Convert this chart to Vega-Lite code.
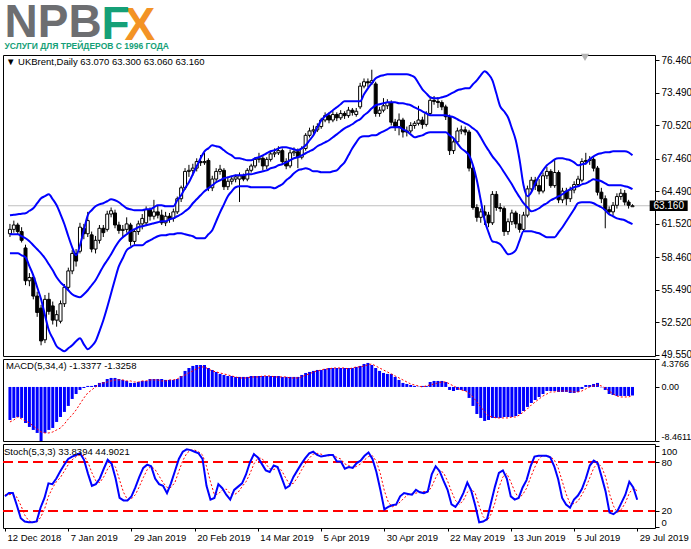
{
  "$schema": "https://vega.github.io/schema/vega-lite/v6.json",
  "background": "white",
  "padding": {"left": 0, "top": 0, "right": 0, "bottom": 0},
  "title": {
    "text": "NPB",
    "subtitle": "УСЛУГИ ДЛЯ ТРЕЙДЕРОВ С 1996 ГОДА",
    "anchor": "start",
    "dx": 4,
    "offset": -49,
    "font": "Liberation Sans",
    "fontSize": 46,
    "fontWeight": "bold",
    "color": "#6d6e71",
    "subtitleFont": "'Liberation Sans Narrow', 'Liberation Sans'",
    "subtitleFontSize": 8.5,
    "subtitleFontWeight": "bold",
    "subtitleColor": "#15a077",
    "subtitlePadding": -5.5
  },
  "datasets": {
    "bars": [
      {"i":0,"o":60.6,"h":61.5,"l":60.3,"c":61.0,"u":62.29,"m":60.55,"b":58.81,"md":-5.17,"sg":-5.48,"k":38,"d":40},
      {"i":1,"o":61.0,"h":61.8,"l":60.7,"c":61.4,"u":62.33,"m":60.55,"b":58.81,"md":-4.85,"sg":-5.17,"k":42,"d":40},
      {"i":2,"o":61.4,"h":61.6,"l":60.5,"c":60.8,"u":62.38,"m":60.55,"b":58.81,"md":-4.70,"sg":-4.70,"k":42,"d":41},
      {"i":3,"o":60.8,"h":61.2,"l":59.8,"c":60.0,"u":62.43,"m":60.37,"b":58.63,"md":-4.85,"sg":-5.01,"k":27,"d":37},
      {"i":4,"o":59.3,"h":59.6,"l":55.9,"c":56.3,"u":62.47,"m":60.19,"b":58.45,"md":-5.64,"sg":-5.32,"k":11,"d":27},
      {"i":5,"o":56.3,"h":57.0,"l":55.8,"c":56.6,"u":62.70,"m":59.91,"b":57.63,"md":-6.26,"sg":-5.64,"k":7,"d":15},
      {"i":6,"o":56.6,"h":56.9,"l":54.6,"c":54.9,"u":62.93,"m":59.55,"b":56.80,"md":-6.73,"sg":-6.11,"k":6,"d":8},
      {"i":7,"o":54.9,"h":55.3,"l":53.0,"c":53.4,"u":63.39,"m":59.18,"b":55.71,"md":-7.20,"sg":-6.57,"k":6,"d":6},
      {"i":8,"o":53.8,"h":54.1,"l":50.4,"c":50.8,"u":63.84,"m":58.81,"b":54.61,"md":-8.46,"sg":-7.05,"k":7,"d":6},
      {"i":9,"o":50.9,"h":55.0,"l":50.6,"c":54.6,"u":64.03,"m":58.36,"b":53.15,"md":-7.20,"sg":-7.20,"k":24,"d":12},
      {"i":10,"o":54.6,"h":55.2,"l":53.2,"c":53.5,"u":64.21,"m":57.81,"b":51.77,"md":-6.73,"sg":-7.20,"k":36,"d":22},
      {"i":11,"o":54.0,"h":54.4,"l":52.3,"c":52.7,"u":63.75,"m":57.26,"b":51.04,"md":-6.42,"sg":-7.05,"k":54,"d":38},
      {"i":12,"o":52.7,"h":53.6,"l":52.1,"c":53.2,"u":63.20,"m":56.62,"b":50.31,"md":-5.48,"sg":-6.73,"k":53,"d":48},
      {"i":13,"o":52.6,"h":54.5,"l":52.4,"c":54.2,"u":62.38,"m":56.16,"b":50.04,"md":-4.70,"sg":-6.42,"k":60,"d":56},
      {"i":14,"o":54.2,"h":56.0,"l":53.9,"c":55.7,"u":61.47,"m":55.80,"b":49.85,"md":-3.91,"sg":-5.79,"k":69,"d":61},
      {"i":15,"o":55.7,"h":57.5,"l":55.4,"c":57.2,"u":60.37,"m":55.43,"b":50.13,"md":-2.97,"sg":-5.01,"k":77,"d":69},
      {"i":16,"o":57.2,"h":59.1,"l":56.9,"c":58.8,"u":59.36,"m":55.07,"b":50.40,"md":-1.88,"sg":-4.38,"k":84,"d":77},
      {"i":17,"o":58.8,"h":59.2,"l":57.6,"c":58.1,"u":58.63,"m":54.88,"b":50.77,"md":-1.10,"sg":-3.60,"k":87,"d":83},
      {"i":18,"o":59.0,"h":61.6,"l":58.8,"c":61.2,"u":59.55,"m":54.79,"b":51.04,"md":-0.47,"sg":-2.66,"k":89,"d":87},
      {"i":19,"o":61.1,"h":61.5,"l":60.1,"c":60.6,"u":60.92,"m":55.07,"b":50.49,"md":-0.16,"sg":-1.72,"k":91,"d":89},
      {"i":20,"o":60.6,"h":62.6,"l":60.3,"c":61.8,"u":62.29,"m":55.43,"b":50.04,"md":0.16,"sg":-0.94,"k":83,"d":88},
      {"i":21,"o":60.5,"h":60.8,"l":58.9,"c":59.2,"u":62.75,"m":55.89,"b":50.31,"md":0.16,"sg":-0.47,"k":66,"d":80},
      {"i":22,"o":59.2,"h":60.4,"l":58.8,"c":60.0,"u":63.11,"m":56.35,"b":50.77,"md":0.31,"sg":0.00,"k":51,"d":67},
      {"i":23,"o":60.0,"h":61.4,"l":59.7,"c":61.1,"u":63.29,"m":56.99,"b":51.68,"md":0.63,"sg":0.47,"k":53,"d":57},
      {"i":24,"o":61.1,"h":61.4,"l":60.3,"c":60.7,"u":63.39,"m":57.63,"b":52.69,"md":0.78,"sg":0.63,"k":60,"d":55},
      {"i":25,"o":61.0,"h":62.7,"l":60.8,"c":62.4,"u":63.57,"m":58.17,"b":53.88,"md":1.25,"sg":0.78,"k":72,"d":62},
      {"i":26,"o":62.4,"h":63.0,"l":62.1,"c":62.7,"u":63.75,"m":58.72,"b":55.16,"md":1.41,"sg":0.94,"k":83,"d":72},
      {"i":27,"o":62.5,"h":62.8,"l":61.1,"c":61.4,"u":63.66,"m":59.36,"b":56.44,"md":1.41,"sg":1.10,"k":78,"d":78},
      {"i":28,"o":61.4,"h":61.7,"l":60.6,"c":60.9,"u":63.48,"m":59.91,"b":57.63,"md":1.25,"sg":1.10,"k":60,"d":74},
      {"i":29,"o":60.9,"h":61.4,"l":60.2,"c":61.0,"u":63.20,"m":60.28,"b":58.36,"md":1.10,"sg":1.10,"k":36,"d":58},
      {"i":30,"o":61.0,"h":62.1,"l":60.7,"c":61.5,"u":62.93,"m":60.55,"b":59.09,"md":0.94,"sg":0.94,"k":33,"d":43},
      {"i":31,"o":61.4,"h":61.6,"l":59.5,"c":59.9,"u":62.84,"m":60.83,"b":59.36,"md":0.63,"sg":0.94,"k":33,"d":34},
      {"i":32,"o":59.9,"h":61.0,"l":59.6,"c":60.8,"u":62.75,"m":61.01,"b":59.55,"md":0.63,"sg":0.78,"k":38,"d":35},
      {"i":33,"o":60.8,"h":61.8,"l":60.5,"c":61.5,"u":62.75,"m":61.19,"b":59.55,"md":0.78,"sg":0.78,"k":49,"d":40},
      {"i":34,"o":61.5,"h":62.4,"l":61.0,"c":62.0,"u":62.75,"m":61.28,"b":59.55,"md":0.94,"sg":0.94,"k":62,"d":50},
      {"i":35,"o":61.6,"h":63.1,"l":61.3,"c":62.8,"u":62.84,"m":61.37,"b":59.82,"md":0.94,"sg":0.94,"k":73,"d":61},
      {"i":36,"o":62.8,"h":63.0,"l":61.8,"c":62.2,"u":62.84,"m":61.47,"b":60.00,"md":1.25,"sg":1.10,"k":77,"d":71},
      {"i":37,"o":62.2,"h":63.7,"l":61.9,"c":62.6,"u":63.02,"m":61.56,"b":60.19,"md":1.25,"sg":1.10,"k":75,"d":75},
      {"i":38,"o":62.6,"h":63.2,"l":62.0,"c":62.3,"u":63.20,"m":61.65,"b":60.37,"md":1.25,"sg":1.10,"k":60,"d":71},
      {"i":39,"o":62.3,"h":62.8,"l":61.4,"c":61.6,"u":63.20,"m":61.74,"b":60.46,"md":1.25,"sg":0.94,"k":53,"d":63},
      {"i":40,"o":61.6,"h":62.6,"l":61.3,"c":62.2,"u":63.11,"m":61.74,"b":60.46,"md":1.10,"sg":0.94,"k":51,"d":55},
      {"i":41,"o":62.2,"h":62.5,"l":61.6,"c":62.0,"u":63.11,"m":61.92,"b":60.55,"md":1.10,"sg":1.10,"k":42,"d":49},
      {"i":42,"o":62.0,"h":62.9,"l":61.7,"c":62.6,"u":63.11,"m":62.01,"b":60.55,"md":1.10,"sg":1.10,"k":54,"d":49},
      {"i":43,"o":62.6,"h":64.0,"l":62.4,"c":63.8,"u":63.66,"m":62.20,"b":60.64,"md":1.25,"sg":1.25,"k":69,"d":55},
      {"i":44,"o":63.8,"h":65.0,"l":63.5,"c":64.8,"u":64.12,"m":62.38,"b":60.64,"md":1.72,"sg":1.57,"k":84,"d":69},
      {"i":45,"o":64.8,"h":66.6,"l":64.6,"c":66.3,"u":64.76,"m":62.65,"b":60.55,"md":2.51,"sg":1.88,"k":93,"d":82},
      {"i":46,"o":66.3,"h":66.9,"l":65.8,"c":66.4,"u":65.31,"m":62.93,"b":60.46,"md":2.97,"sg":2.19,"k":96,"d":91},
      {"i":47,"o":66.4,"h":67.0,"l":65.9,"c":66.6,"u":66.04,"m":63.39,"b":60.37,"md":3.29,"sg":2.51,"k":95,"d":95},
      {"i":48,"o":66.6,"h":67.5,"l":66.3,"c":67.2,"u":66.77,"m":63.75,"b":60.19,"md":3.44,"sg":2.82,"k":93,"d":95},
      {"i":49,"o":67.2,"h":67.8,"l":66.8,"c":67.1,"u":67.50,"m":64.12,"b":60.19,"md":3.44,"sg":3.13,"k":91,"d":93},
      {"i":50,"o":67.1,"h":68.0,"l":66.9,"c":67.2,"u":68.14,"m":64.48,"b":60.19,"md":3.44,"sg":3.13,"k":84,"d":89},
      {"i":51,"o":67.3,"h":67.5,"l":64.5,"c":64.8,"u":68.41,"m":64.76,"b":60.55,"md":2.97,"sg":2.82,"k":51,"d":75},
      {"i":52,"o":64.8,"h":65.9,"l":64.5,"c":65.6,"u":68.69,"m":65.03,"b":60.92,"md":2.66,"sg":2.51,"k":34,"d":56},
      {"i":53,"o":65.6,"h":66.6,"l":65.3,"c":66.3,"u":68.60,"m":65.31,"b":61.74,"md":2.35,"sg":2.35,"k":36,"d":40},
      {"i":54,"o":66.3,"h":66.9,"l":66.0,"c":66.5,"u":68.51,"m":65.49,"b":62.56,"md":2.04,"sg":2.19,"k":53,"d":41},
      {"i":55,"o":66.4,"h":66.6,"l":64.6,"c":64.9,"u":68.23,"m":65.67,"b":63.29,"md":1.88,"sg":2.04,"k":48,"d":46},
      {"i":56,"o":64.9,"h":65.7,"l":64.6,"c":65.4,"u":67.96,"m":65.76,"b":64.03,"md":1.72,"sg":1.88,"k":40,"d":47},
      {"i":57,"o":65.4,"h":65.9,"l":65.1,"c":65.6,"u":67.77,"m":65.85,"b":64.48,"md":1.72,"sg":1.72,"k":34,"d":41},
      {"i":58,"o":65.6,"h":66.0,"l":65.3,"c":65.8,"u":67.50,"m":65.95,"b":64.85,"md":1.57,"sg":1.57,"k":46,"d":40},
      {"i":59,"o":65.6,"h":66.2,"l":63.5,"c":65.9,"u":67.50,"m":65.95,"b":64.94,"md":1.57,"sg":1.41,"k":50,"d":43},
      {"i":60,"o":65.9,"h":66.1,"l":65.4,"c":65.6,"u":67.41,"m":65.95,"b":64.94,"md":1.57,"sg":1.41,"k":54,"d":50},
      {"i":61,"o":65.6,"h":66.6,"l":65.4,"c":66.4,"u":67.32,"m":66.04,"b":64.94,"md":1.57,"sg":1.41,"k":65,"d":56},
      {"i":62,"o":66.4,"h":67.0,"l":66.2,"c":66.8,"u":67.32,"m":66.04,"b":64.85,"md":1.72,"sg":1.57,"k":80,"d":66},
      {"i":63,"o":66.8,"h":67.6,"l":66.6,"c":67.4,"u":67.50,"m":66.13,"b":64.85,"md":1.72,"sg":1.57,"k":90,"d":78},
      {"i":64,"o":67.4,"h":68.0,"l":67.1,"c":67.5,"u":67.59,"m":66.22,"b":64.85,"md":1.72,"sg":1.57,"k":86,"d":85},
      {"i":65,"o":67.5,"h":67.7,"l":66.4,"c":66.8,"u":67.77,"m":66.31,"b":64.85,"md":1.72,"sg":1.72,"k":78,"d":85},
      {"i":66,"o":66.8,"h":67.6,"l":66.5,"c":67.4,"u":67.96,"m":66.40,"b":64.85,"md":1.72,"sg":1.72,"k":70,"d":78},
      {"i":67,"o":67.4,"h":68.2,"l":67.2,"c":67.9,"u":68.14,"m":66.59,"b":64.85,"md":1.72,"sg":1.72,"k":68,"d":72},
      {"i":68,"o":67.9,"h":68.4,"l":67.6,"c":68.0,"u":68.23,"m":66.68,"b":64.76,"md":1.72,"sg":1.57,"k":76,"d":71},
      {"i":69,"o":68.0,"h":68.6,"l":67.8,"c":68.2,"u":68.41,"m":66.86,"b":64.94,"md":1.72,"sg":1.57,"k":74,"d":73},
      {"i":70,"o":68.2,"h":68.4,"l":66.9,"c":67.2,"u":68.51,"m":66.95,"b":65.12,"md":1.57,"sg":1.57,"k":61,"d":70},
      {"i":71,"o":67.2,"h":67.5,"l":66.5,"c":66.8,"u":68.51,"m":67.13,"b":65.49,"md":1.57,"sg":1.57,"k":48,"d":61},
      {"i":72,"o":66.8,"h":68.3,"l":66.6,"c":68.0,"u":68.41,"m":67.32,"b":65.76,"md":1.57,"sg":1.41,"k":51,"d":53},
      {"i":73,"o":68.0,"h":68.5,"l":67.7,"c":68.1,"u":68.32,"m":67.50,"b":66.13,"md":1.57,"sg":1.41,"k":62,"d":54},
      {"i":74,"o":68.1,"h":68.4,"l":66.6,"c":67.6,"u":68.23,"m":67.59,"b":66.40,"md":1.57,"sg":1.41,"k":70,"d":61},
      {"i":75,"o":67.6,"h":68.6,"l":67.4,"c":68.4,"u":68.41,"m":67.77,"b":66.49,"md":1.88,"sg":1.57,"k":78,"d":70},
      {"i":76,"o":68.4,"h":69.8,"l":68.2,"c":69.6,"u":68.69,"m":67.96,"b":66.59,"md":2.19,"sg":1.88,"k":85,"d":78},
      {"i":77,"o":69.6,"h":70.3,"l":69.4,"c":70.0,"u":69.15,"m":68.14,"b":66.49,"md":2.35,"sg":2.04,"k":91,"d":85},
      {"i":78,"o":70.0,"h":70.5,"l":69.7,"c":70.1,"u":69.60,"m":68.32,"b":66.31,"md":2.51,"sg":2.35,"k":93,"d":90},
      {"i":79,"o":70.1,"h":70.7,"l":69.9,"c":70.4,"u":70.33,"m":68.60,"b":66.31,"md":2.66,"sg":2.51,"k":89,"d":91},
      {"i":80,"o":70.4,"h":71.2,"l":70.2,"c":71.0,"u":70.97,"m":68.78,"b":66.22,"md":2.66,"sg":2.66,"k":87,"d":90},
      {"i":81,"o":71.0,"h":71.7,"l":70.8,"c":71.4,"u":71.34,"m":68.96,"b":66.22,"md":2.82,"sg":2.82,"k":88,"d":88},
      {"i":82,"o":71.4,"h":71.7,"l":70.7,"c":71.0,"u":71.61,"m":69.15,"b":66.22,"md":2.97,"sg":2.82,"k":89,"d":88},
      {"i":83,"o":71.0,"h":71.8,"l":70.8,"c":71.5,"u":71.89,"m":69.42,"b":66.31,"md":2.97,"sg":2.97,"k":89,"d":89},
      {"i":84,"o":71.5,"h":71.7,"l":70.9,"c":71.2,"u":72.16,"m":69.69,"b":66.40,"md":2.97,"sg":2.97,"k":81,"d":86},
      {"i":85,"o":71.2,"h":71.9,"l":71.0,"c":71.6,"u":72.44,"m":69.97,"b":66.77,"md":2.97,"sg":2.97,"k":81,"d":84},
      {"i":86,"o":71.6,"h":71.8,"l":71.1,"c":71.4,"u":72.71,"m":70.24,"b":67.13,"md":2.97,"sg":2.97,"k":72,"d":78},
      {"i":87,"o":71.4,"h":72.2,"l":71.2,"c":71.9,"u":72.71,"m":70.43,"b":67.77,"md":2.97,"sg":2.82,"k":74,"d":76},
      {"i":88,"o":71.9,"h":72.1,"l":71.4,"c":71.7,"u":72.71,"m":70.61,"b":68.41,"md":2.97,"sg":2.97,"k":73,"d":73},
      {"i":89,"o":71.5,"h":72.1,"l":71.3,"c":71.8,"u":72.71,"m":70.88,"b":68.96,"md":3.13,"sg":3.13,"k":79,"d":75},
      {"i":90,"o":72.2,"h":74.4,"l":72.0,"c":74.1,"u":72.71,"m":71.07,"b":69.42,"md":3.29,"sg":3.13,"k":82,"d":78},
      {"i":91,"o":74.1,"h":74.8,"l":73.9,"c":74.5,"u":73.35,"m":71.43,"b":69.51,"md":3.60,"sg":3.29,"k":88,"d":83},
      {"i":92,"o":74.5,"h":74.8,"l":74.0,"c":74.4,"u":73.90,"m":71.71,"b":69.51,"md":3.76,"sg":3.44,"k":92,"d":87},
      {"i":93,"o":74.4,"h":75.6,"l":74.2,"c":74.6,"u":74.36,"m":72.07,"b":69.60,"md":3.44,"sg":3.60,"k":84,"d":88},
      {"i":94,"o":74.3,"h":74.5,"l":71.3,"c":71.6,"u":74.81,"m":72.35,"b":69.60,"md":2.97,"sg":3.29,"k":68,"d":81},
      {"i":95,"o":71.6,"h":72.2,"l":71.3,"c":71.9,"u":75.00,"m":72.44,"b":69.79,"md":2.51,"sg":2.97,"k":46,"d":66},
      {"i":96,"o":71.9,"h":73.0,"l":71.7,"c":72.3,"u":75.09,"m":72.53,"b":69.97,"md":2.19,"sg":2.66,"k":22,"d":45},
      {"i":97,"o":72.3,"h":72.9,"l":72.0,"c":72.6,"u":75.18,"m":72.62,"b":70.15,"md":2.04,"sg":2.35,"k":25,"d":31},
      {"i":98,"o":72.6,"h":72.8,"l":70.5,"c":70.8,"u":75.18,"m":72.62,"b":70.33,"md":2.04,"sg":2.04,"k":27,"d":25},
      {"i":99,"o":70.8,"h":71.1,"l":70.0,"c":70.4,"u":75.18,"m":72.62,"b":70.33,"md":1.57,"sg":1.72,"k":28,"d":27},
      {"i":100,"o":70.4,"h":71.6,"l":69.6,"c":71.0,"u":75.18,"m":72.53,"b":70.33,"md":1.10,"sg":1.41,"k":38,"d":31},
      {"i":101,"o":71.0,"h":71.2,"l":69.4,"c":69.9,"u":75.18,"m":72.53,"b":70.15,"md":0.63,"sg":1.10,"k":42,"d":36},
      {"i":102,"o":69.9,"h":70.4,"l":69.5,"c":70.0,"u":75.18,"m":72.44,"b":69.97,"md":0.47,"sg":0.78,"k":41,"d":40},
      {"i":103,"o":70.0,"h":70.8,"l":69.8,"c":70.5,"u":75.09,"m":72.35,"b":69.69,"md":0.31,"sg":0.47,"k":40,"d":41},
      {"i":104,"o":70.5,"h":70.9,"l":70.2,"c":70.7,"u":74.91,"m":72.16,"b":69.42,"md":0.16,"sg":0.31,"k":46,"d":42},
      {"i":105,"o":70.7,"h":72.3,"l":70.5,"c":71.0,"u":74.36,"m":71.98,"b":69.51,"md":0.05,"sg":0.16,"k":43,"d":43},
      {"i":106,"o":71.0,"h":71.3,"l":70.2,"c":70.6,"u":73.81,"m":71.80,"b":69.60,"md":0.16,"sg":0.00,"k":42,"d":44},
      {"i":107,"o":70.6,"h":71.8,"l":70.4,"c":71.6,"u":73.44,"m":71.61,"b":69.79,"md":0.16,"sg":0.16,"k":44,"d":43},
      {"i":108,"o":71.6,"h":73.1,"l":71.4,"c":72.8,"u":73.08,"m":71.43,"b":69.88,"md":0.78,"sg":0.31,"k":65,"d":50},
      {"i":109,"o":72.8,"h":73.2,"l":72.4,"c":72.7,"u":72.99,"m":71.43,"b":69.88,"md":0.94,"sg":0.47,"k":75,"d":61},
      {"i":110,"o":72.7,"h":73.1,"l":72.1,"c":72.6,"u":72.99,"m":71.43,"b":69.88,"md":0.94,"sg":0.63,"k":69,"d":70},
      {"i":111,"o":72.6,"h":72.8,"l":71.9,"c":72.2,"u":73.08,"m":71.43,"b":69.88,"md":0.94,"sg":0.78,"k":57,"d":67},
      {"i":112,"o":72.2,"h":72.4,"l":71.0,"c":71.3,"u":73.17,"m":71.43,"b":69.88,"md":0.78,"sg":0.78,"k":46,"d":57},
      {"i":113,"o":71.3,"h":71.5,"l":67.8,"c":68.2,"u":73.35,"m":71.34,"b":69.60,"md":-0.47,"sg":0.47,"k":28,"d":44},
      {"i":114,"o":68.2,"h":69.3,"l":67.9,"c":69.0,"u":73.53,"m":71.25,"b":69.33,"md":-0.63,"sg":0.16,"k":25,"d":33},
      {"i":115,"o":69.0,"h":70.3,"l":68.8,"c":70.0,"u":73.72,"m":71.07,"b":68.87,"md":-0.47,"sg":-0.16,"k":32,"d":28},
      {"i":116,"o":70.0,"h":70.5,"l":69.7,"c":70.1,"u":73.81,"m":70.88,"b":68.41,"md":-0.47,"sg":-0.47,"k":42,"d":33},
      {"i":117,"o":70.1,"h":70.4,"l":69.6,"c":69.9,"u":73.90,"m":70.70,"b":68.14,"md":-0.63,"sg":-0.63,"k":55,"d":43},
      {"i":118,"o":69.9,"h":70.1,"l":66.3,"c":66.6,"u":73.90,"m":70.52,"b":67.77,"md":-1.72,"sg":-0.94,"k":45,"d":47},
      {"i":119,"o":66.6,"h":66.8,"l":62.8,"c":63.0,"u":74.27,"m":70.24,"b":66.86,"md":-2.97,"sg":-1.57,"k":27,"d":42},
      {"i":120,"o":63.0,"h":63.3,"l":61.7,"c":62.1,"u":74.63,"m":69.97,"b":65.49,"md":-4.23,"sg":-2.35,"k":6,"d":26},
      {"i":121,"o":62.1,"h":62.9,"l":61.6,"c":62.6,"u":75.09,"m":69.42,"b":63.66,"md":-4.85,"sg":-3.13,"k":7,"d":13},
      {"i":122,"o":62.6,"h":63.2,"l":61.4,"c":62.3,"u":75.45,"m":68.78,"b":61.83,"md":-5.32,"sg":-3.91,"k":10,"d":8},
      {"i":123,"o":62.3,"h":62.6,"l":61.2,"c":61.6,"u":75.18,"m":68.23,"b":60.73,"md":-5.17,"sg":-4.54,"k":30,"d":16},
      {"i":124,"o":61.6,"h":64.5,"l":61.4,"c":64.2,"u":74.63,"m":67.68,"b":59.91,"md":-4.85,"sg":-4.70,"k":50,"d":30},
      {"i":125,"o":64.2,"h":64.5,"l":62.7,"c":63.0,"u":73.44,"m":67.23,"b":59.82,"md":-4.85,"sg":-4.85,"k":67,"d":49},
      {"i":126,"o":63.0,"h":63.4,"l":62.6,"c":62.9,"u":72.25,"m":66.77,"b":59.64,"md":-4.85,"sg":-4.85,"k":70,"d":62},
      {"i":127,"o":62.9,"h":63.1,"l":60.4,"c":60.8,"u":71.80,"m":66.22,"b":59.18,"md":-4.70,"sg":-4.85,"k":60,"d":66},
      {"i":128,"o":60.8,"h":62.0,"l":60.5,"c":61.7,"u":71.25,"m":65.67,"b":58.72,"md":-4.70,"sg":-4.85,"k":38,"d":56},
      {"i":129,"o":61.7,"h":62.8,"l":61.4,"c":62.5,"u":70.24,"m":65.12,"b":58.81,"md":-4.70,"sg":-4.70,"k":34,"d":44},
      {"i":130,"o":62.5,"h":62.7,"l":61.1,"c":61.5,"u":69.15,"m":64.48,"b":59.09,"md":-4.54,"sg":-4.70,"k":36,"d":36},
      {"i":131,"o":61.5,"h":62.4,"l":60.7,"c":61.0,"u":67.32,"m":63.93,"b":60.00,"md":-4.23,"sg":-4.38,"k":49,"d":40},
      {"i":132,"o":61.0,"h":62.6,"l":60.8,"c":62.3,"u":65.03,"m":63.39,"b":60.83,"md":-3.76,"sg":-3.91,"k":58,"d":48},
      {"i":133,"o":62.3,"h":65.0,"l":62.1,"c":64.7,"u":64.03,"m":63.02,"b":60.83,"md":-3.13,"sg":-3.44,"k":75,"d":61},
      {"i":134,"o":64.7,"h":65.8,"l":64.4,"c":65.5,"u":64.39,"m":62.65,"b":60.83,"md":-2.51,"sg":-2.82,"k":87,"d":73},
      {"i":135,"o":65.5,"h":65.8,"l":64.6,"c":65.0,"u":65.21,"m":62.75,"b":60.73,"md":-2.04,"sg":-2.35,"k":88,"d":83},
      {"i":136,"o":65.0,"h":65.6,"l":64.2,"c":64.5,"u":65.85,"m":62.93,"b":60.64,"md":-1.57,"sg":-1.88,"k":88,"d":88},
      {"i":137,"o":64.5,"h":66.2,"l":64.3,"c":65.9,"u":66.40,"m":63.20,"b":60.46,"md":-1.10,"sg":-1.41,"k":88,"d":88},
      {"i":138,"o":65.9,"h":66.7,"l":65.6,"c":66.3,"u":66.86,"m":63.39,"b":60.28,"md":-0.63,"sg":-1.10,"k":86,"d":87},
      {"i":139,"o":66.3,"h":66.5,"l":64.8,"c":65.0,"u":67.13,"m":63.66,"b":60.28,"md":-0.63,"sg":-0.78,"k":75,"d":83},
      {"i":140,"o":65.0,"h":67.4,"l":64.8,"c":66.2,"u":67.41,"m":63.84,"b":60.28,"md":-0.63,"sg":-0.78,"k":59,"d":73},
      {"i":141,"o":66.2,"h":66.4,"l":63.4,"c":63.7,"u":67.50,"m":64.03,"b":60.73,"md":-0.78,"sg":-0.63,"k":36,"d":57},
      {"i":142,"o":63.7,"h":64.8,"l":63.4,"c":64.5,"u":67.50,"m":64.21,"b":61.19,"md":-0.78,"sg":-0.63,"k":28,"d":41},
      {"i":143,"o":64.5,"h":64.8,"l":63.2,"c":63.8,"u":67.41,"m":64.48,"b":61.74,"md":-0.78,"sg":-0.63,"k":24,"d":29},
      {"i":144,"o":63.8,"h":64.9,"l":63.5,"c":64.6,"u":67.32,"m":64.67,"b":62.29,"md":-0.94,"sg":-0.63,"k":34,"d":29},
      {"i":145,"o":64.6,"h":65.4,"l":64.3,"c":65.1,"u":67.13,"m":64.85,"b":62.84,"md":-0.94,"sg":-0.78,"k":39,"d":32},
      {"i":146,"o":65.1,"h":65.9,"l":64.9,"c":65.6,"u":66.86,"m":64.94,"b":63.39,"md":-0.78,"sg":-0.78,"k":47,"d":40},
      {"i":147,"o":65.5,"h":67.5,"l":65.3,"c":67.2,"u":66.95,"m":65.12,"b":63.48,"md":-0.31,"sg":-0.63,"k":60,"d":49},
      {"i":148,"o":67.2,"h":68.0,"l":66.9,"c":67.3,"u":67.04,"m":65.21,"b":63.48,"md":0.31,"sg":-0.31,"k":76,"d":61},
      {"i":149,"o":67.3,"h":67.7,"l":66.9,"c":67.4,"u":67.41,"m":65.40,"b":63.48,"md":0.31,"sg":0.00,"k":82,"d":73},
      {"i":150,"o":67.4,"h":67.6,"l":66.3,"c":66.6,"u":67.68,"m":65.58,"b":63.39,"md":0.47,"sg":0.16,"k":79,"d":79},
      {"i":151,"o":66.6,"h":66.8,"l":64.1,"c":64.4,"u":67.87,"m":65.49,"b":63.20,"md":0.63,"sg":0.31,"k":62,"d":74},
      {"i":152,"o":64.4,"h":64.8,"l":63.4,"c":63.8,"u":67.96,"m":65.40,"b":63.02,"md":-0.05,"sg":0.16,"k":44,"d":62},
      {"i":153,"o":63.8,"h":64.1,"l":61.1,"c":62.8,"u":68.05,"m":65.21,"b":62.75,"md":-0.47,"sg":-0.16,"k":18,"d":41},
      {"i":154,"o":62.8,"h":63.1,"l":62.3,"c":62.6,"u":68.05,"m":65.03,"b":62.38,"md":-1.10,"sg":-0.63,"k":16,"d":26},
      {"i":155,"o":62.6,"h":63.5,"l":62.3,"c":63.2,"u":68.14,"m":65.03,"b":62.20,"md":-1.25,"sg":-1.10,"k":20,"d":18},
      {"i":156,"o":63.2,"h":64.3,"l":62.9,"c":64.0,"u":68.14,"m":65.03,"b":62.01,"md":-1.41,"sg":-1.41,"k":30,"d":22},
      {"i":157,"o":64.0,"h":64.7,"l":63.7,"c":64.3,"u":68.14,"m":65.03,"b":61.92,"md":-1.41,"sg":-1.57,"k":40,"d":30},
      {"i":158,"o":64.3,"h":64.6,"l":63.2,"c":63.5,"u":68.14,"m":64.94,"b":61.83,"md":-1.41,"sg":-1.57,"k":56,"d":42},
      {"i":159,"o":63.5,"h":63.7,"l":62.9,"c":63.2,"u":68.05,"m":64.85,"b":61.65,"md":-1.41,"sg":-1.57,"k":49,"d":48},
      {"i":160,"o":63.07,"h":63.3,"l":63.06,"c":63.16,"u":67.77,"m":64.67,"b":61.47,"md":-1.3377,"sg":-1.3258,"k":33.8394,"d":44.9021}
    ]
  },
  "vconcat": [
    {
      "title": {"text": "F", "dx": 101, "offset": -46, "font": "Liberation Sans", "fontSize": 46, "fontWeight": "bold", "color": "#15a077"},
      "vconcat": [
        {
          "title": {"text": "X", "dx": 124, "offset": 3, "font": "Liberation Sans", "fontSize": 46, "fontWeight": "bold", "color": "#f39325"},
          "spacing": 3,
          "bounds": "flush",
          "resolve": {"scale": {"x": "independent", "y": "independent"}},
          "vconcat": [
            {
              "width": 652,
              "height": 301,
              "title": {"text": "▼  UKBrent,Daily  63.070 63.300 63.060 63.160", "dx": 3, "offset": -13},
              "data": {"name": "bars"},
              "encoding": {
                "x": {"field": "i", "type": "quantitative", "title": null, "axis": null,
                      "scale": {"domain": [-0.5, 164.5], "nice": false, "zero": false}}
              },
              "layer": [
                {
                  "transform": [{"filter": "datum.i == 160"}],
                  "mark": {"type": "rule", "color": "#c0c0c0", "strokeWidth": 1},
                  "encoding": {
                    "x": {"datum": -0.5, "type": "quantitative"},
                    "x2": {"datum": 164.5},
                    "y": {"field": "c", "type": "quantitative", "title": null,
                          "scale": {"domain": [49.42, 76.945], "nice": false, "zero": false},
                          "axis": {"orient": "right", "values": [76.46, 73.49, 70.52, 67.46, 64.49, 61.52, 58.46, 55.49, 52.52, 49.55], "tickCount": 40, "format": ".3f", "labelOverlap": false}}
                  }
                },
                {
                  "mark": {"type": "rule", "color": "#000000", "strokeWidth": 1},
                  "encoding": {
                    "y": {"field": "l", "type": "quantitative", "title": null,
                          "scale": {"domain": [49.42, 76.945], "nice": false, "zero": false},
                          "axis": {"orient": "right", "values": [76.46, 73.49, 70.52, 67.46, 64.49, 61.52, 58.46, 55.49, 52.52, 49.55], "tickCount": 40, "format": ".3f", "labelOverlap": false}},
                    "y2": {"field": "h"}
                  }
                },
                {
                  "mark": {"type": "bar", "width": 3, "stroke": "#000000", "strokeWidth": 1},
                  "encoding": {
                    "y": {"field": "o", "type": "quantitative", "title": null,
                          "scale": {"domain": [49.42, 76.945], "nice": false, "zero": false},
                          "axis": {"orient": "right", "values": [76.46, 73.49, 70.52, 67.46, 64.49, 61.52, 58.46, 55.49, 52.52, 49.55], "tickCount": 40, "format": ".3f", "labelOverlap": false}},
                    "y2": {"field": "c"},
                    "fill": {"condition": {"test": "datum.c >= datum.o", "value": "#ffffff"}, "value": "#000000"}
                  }
                },
                {
                  "mark": {"type": "line", "color": "#0000ff", "strokeWidth": 2, "interpolate": "monotone"},
                  "encoding": {"y": {"field": "u", "type": "quantitative", "title": null}}
                },
                {
                  "mark": {"type": "line", "color": "#0000ff", "strokeWidth": 2, "interpolate": "monotone"},
                  "encoding": {"y": {"field": "m", "type": "quantitative", "title": null}}
                },
                {
                  "mark": {"type": "line", "color": "#0000ff", "strokeWidth": 2, "interpolate": "monotone"},
                  "encoding": {"y": {"field": "b", "type": "quantitative", "title": null}}
                },
                {
                  "transform": [{"filter": "datum.i == 160"}],
                  "mark": {"type": "point", "shape": "triangle-down", "filled": true, "color": "#b4b4b4", "opacity": 1, "size": 70},
                  "encoding": {
                    "x": {"datum": 147.8, "type": "quantitative"},
                    "y": {"datum": 76.72, "type": "quantitative"}
                  }
                },
                {
                  "transform": [{"filter": "datum.i == 160"}],
                  "mark": {"type": "point", "shape": "M-1,-0.27H1V0.27H-1Z", "filled": true, "color": "#000000", "opacity": 1, "size": 1444, "clip": false},
                  "encoding": {
                    "x": {"datum": 169.3, "type": "quantitative"},
                    "y": {"field": "c", "type": "quantitative", "title": null}
                  }
                },
                {
                  "transform": [{"filter": "datum.i == 160"}],
                  "mark": {"type": "text", "color": "#ffffff", "font": "Liberation Sans", "fontSize": 10, "align": "center", "baseline": "middle", "clip": false},
                  "encoding": {
                    "x": {"datum": 169.3, "type": "quantitative"},
                    "y": {"field": "c", "type": "quantitative", "title": null},
                    "text": {"field": "c", "type": "quantitative", "format": ".3f"}
                  }
                }
              ]
            },
            {
              "width": 652,
              "height": 82,
              "title": {"text": "MACD(5,34,4) -1.3377 -1.3258", "dx": 3, "offset": -12},
              "data": {"name": "bars"},
              "encoding": {
                "x": {"field": "i", "type": "quantitative", "title": null, "axis": null,
                      "scale": {"domain": [-0.5, 164.5], "nice": false, "zero": false}}
              },
              "layer": [
                {
                  "mark": {"type": "bar", "width": 3, "color": "#0000ff"},
                  "encoding": {
                    "y": {"field": "md", "type": "quantitative", "title": null,
                          "scale": {"domain": [-8.4611, 4.3766], "nice": false},
                          "axis": {"orient": "right", "values": [-8.4611, 0, 4.3766], "tickCount": 20, "labelFlush": true, "labelFontSize": 9, "labelOverlap": false,
                                   "labelExpr": "datum.value > 1 ? '4.3766' : (datum.value < -1 ? '-8.4611' : '0.00')"}}
                  }
                },
                {
                  "mark": {"type": "line", "color": "#ff0000", "strokeWidth": 1, "strokeDash": [2, 2]},
                  "encoding": {
                    "y": {"field": "sg", "type": "quantitative", "title": null,
                          "scale": {"domain": [-8.4611, 4.3766], "nice": false},
                          "axis": {"orient": "right", "values": [-8.4611, 0, 4.3766], "tickCount": 20, "labelFlush": true, "labelFontSize": 9, "labelOverlap": false,
                                   "labelExpr": "datum.value > 1 ? '4.3766' : (datum.value < -1 ? '-8.4611' : '0.00')"}}
                  }
                }
              ]
            },
            {
              "width": 652,
              "height": 84,
              "title": {"text": "Stoch(5,3,3) 33.8394 44.9021", "dx": 3, "offset": -12},
              "data": {"name": "bars"},
              "encoding": {
                "x": {"field": "i", "type": "quantitative", "title": null,
                      "scale": {"domain": [-0.5, 164.5], "nice": false, "zero": false},
                      "axis": {"orient": "bottom", "values": [0, 16, 32, 48, 64, 80, 96, 112, 128, 144, 160], "tickCount": 40,
                               "labelExpr": "['12 Dec 2018','7 Jan 2019','29 Jan 2019','20 Feb 2019','14 Mar 2019','5 Apr 2019','30 Apr 2019','22 May 2019','13 Jun 2019','5 Jul 2019','29 Jul 2019'][round(datum.value / 16)]",
                               "labelAlign": "left", "labelOffset": 2, "labelPadding": 1, "tickSize": 3,
                               "labelFontSize": 9.5, "labelOverlap": false, "labelFlush": false, "labelBound": false}}
              },
              "layer": [
                {
                  "mark": {"type": "rule", "color": "#ff0000", "strokeWidth": 1, "strokeDash": [10, 5]},
                  "encoding": {
                    "x": {"datum": -0.5, "type": "quantitative"},
                    "x2": {"datum": 164.5},
                    "y": {"datum": 80, "type": "quantitative", "title": null,
                          "scale": {"domain": [-1, 102.5], "nice": false, "zero": false},
                          "axis": {"orient": "right", "values": [0, 20, 80, 100], "tickCount": 20, "labelFontSize": 9.5, "labelOverlap": false,
                                   "labelOffset": {"condition": {"test": "datum.value == 100", "value": 5}, "value": 0},
                                   "labelBaseline": {"condition": {"test": "datum.value == 0", "value": "bottom"}, "value": "middle"}}}
                  }
                },
                {
                  "mark": {"type": "rule", "color": "#ff0000", "strokeWidth": 1, "strokeDash": [10, 5]},
                  "encoding": {
                    "x": {"datum": -0.5, "type": "quantitative"},
                    "x2": {"datum": 164.5},
                    "y": {"datum": 20, "type": "quantitative", "title": null}
                  }
                },
                {
                  "mark": {"type": "line", "color": "#ff0000", "strokeWidth": 1, "strokeDash": [2, 2]},
                  "encoding": {"y": {"field": "d", "type": "quantitative", "title": null}}
                },
                {
                  "mark": {"type": "line", "color": "#0000ff", "strokeWidth": 2},
                  "encoding": {"y": {"field": "k", "type": "quantitative", "title": null}}
                }
              ]
            }
          ]
        }
      ]
    }
  ],
  "config": {
    "view": {"stroke": "#000000", "strokeWidth": 1},
    "axis": {"grid": false, "domain": false, "labelFont": "Liberation Sans", "labelFontSize": 10, "labelColor": "#000000", "tickColor": "#000000", "tickSize": 4, "labelPadding": 2, "labelOverlap": false},
    "title": {"font": "Liberation Sans", "fontWeight": "normal", "fontSize": 9.5, "color": "#000000", "anchor": "start"}
  }
}
